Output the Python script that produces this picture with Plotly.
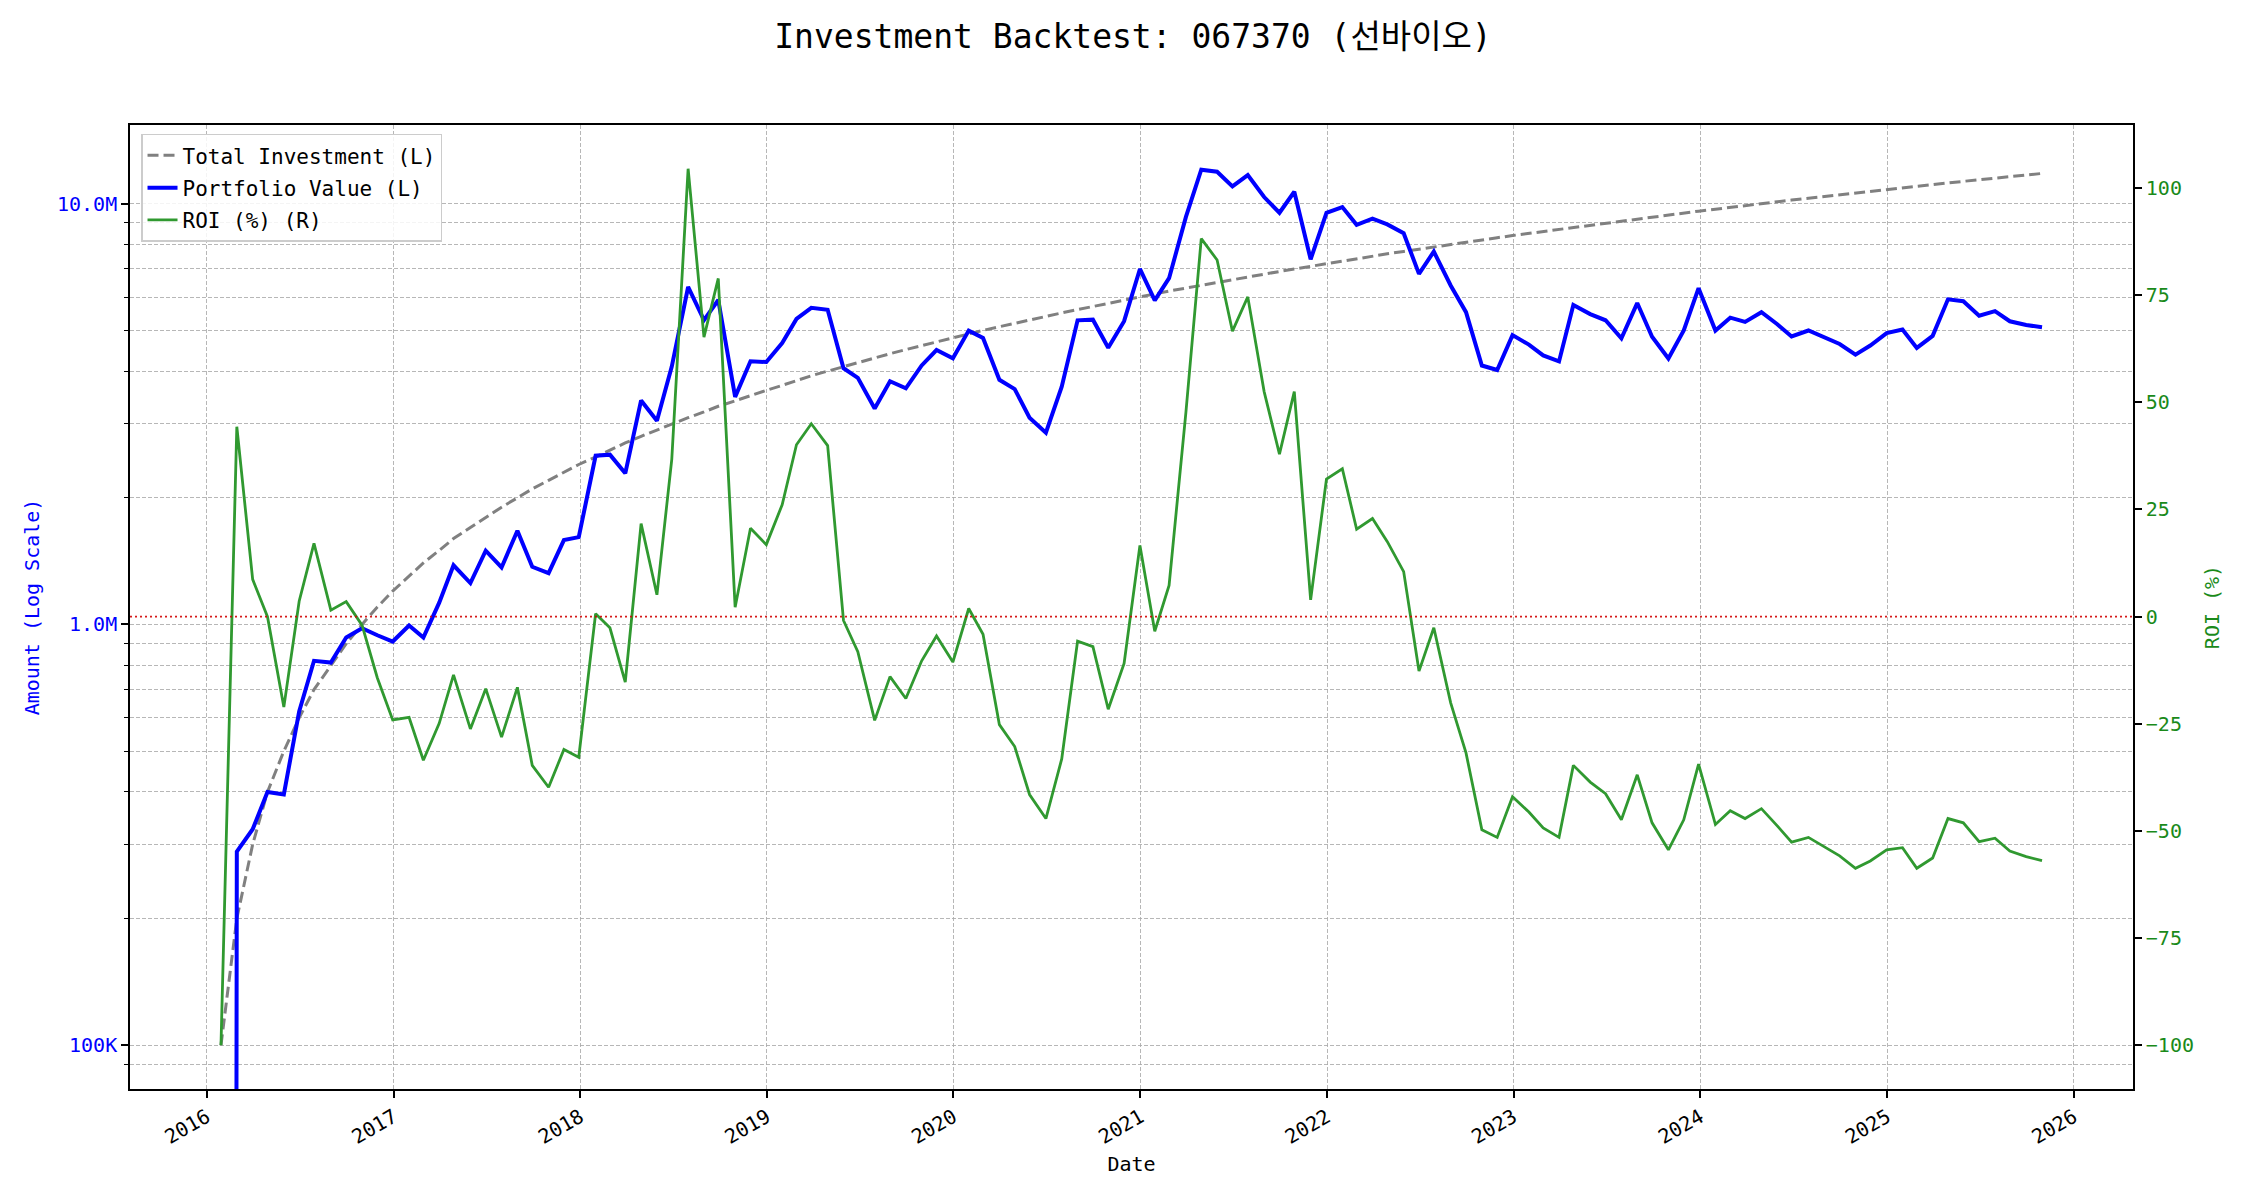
import plotly.graph_objects as go
import pandas as pd

# ---------------- data ----------------
n_months = 118
try:
    dates = pd.date_range("2016-01-01", periods=n_months, freq="BME")
except Exception:
    dates = pd.date_range("2016-01-01", periods=n_months, freq="BM")

# cumulative invested amount, in thousands of KRW
total_investment_k = [
    100, 200, 300, 400, 500, 600, 700, 800, 900, 1000, 1100, 1200,
    1300, 1400, 1500, 1600, 1700, 1800, 1900, 2000, 2100, 2200, 2300, 2400,
    2500, 2600, 2700, 2800, 2900, 3000, 3100, 3200, 3300, 3400, 3500, 3600,
    3700, 3800, 3900, 4000, 4100, 4200, 4300, 4400, 4500, 4600, 4700, 4800,
    4900, 5000, 5100, 5200, 5300, 5400, 5500, 5600, 5700, 5800, 5900, 6000,
    6100, 6200, 6300, 6400, 6500, 6600, 6700, 6800, 6900, 7000, 7100, 7200,
    7300, 7400, 7500, 7600, 7700, 7800, 7900, 8000, 8100, 8200, 8300, 8400,
    8500, 8600, 8700, 8800, 8900, 9000, 9100, 9200, 9300, 9400, 9500, 9600,
    9700, 9800, 9900, 10000, 10100, 10200, 10300, 10400, 10500, 10600, 10700, 10800,
    10900, 11000, 11100, 11200, 11300, 11400, 11500, 11600, 11700, 11800,
]

# ROI (%) per month
roi_pct = [
    -100, 44.3, 8.7, 0.0, -21.1, 3.6, 17.1, 1.5, 3.5, -2.0, -14.3, -24.1,
    -23.5, -33.5, -24.9, -13.6, -26.2, -16.8, -28.1, -16.5, -34.7, -39.8, -31.0, -32.8,
    0.7, -2.6, -15.3, 21.7, 5.1, 36.7, 104.5, 65.2, 78.9, 2.2, 20.6, 16.8,
    26.1, 40.1, 45.0, 39.9, -0.9, -8.2, -24.2, -14.0, -19.1, -10.3, -4.5, -10.6,
    1.9, -4.1, -25.2, -30.3, -41.5, -47.1, -33.2, -5.7, -7.0, -21.6, -10.9, 16.6,
    -3.4, 7.3, 47.7, 88.2, 83.2, 66.6, 74.6, 52.5, 37.9, 52.5, 3.9, 32.1,
    34.5, 20.4, 22.9, 17.5, 10.5, -12.7, -2.6, -20.1, -31.8, -49.7, -51.5, -42.0,
    -45.6, -49.3, -51.5, -34.7, -38.6, -41.3, -47.4, -36.9, -48.1, -54.4, -47.4, -34.4,
    -48.5, -45.3, -47.1, -44.8, -48.8, -52.6, -51.5, -53.6, -55.8, -58.7, -57.0, -54.4,
    -53.9, -58.7, -56.3, -47.1, -48.1, -52.5, -51.7, -54.7, -56.0, -56.9,
]

left_tick_vals = [1e5, 1e6, 1e7]
left_tick_text = ["100K", "1.0M", "10.0M"]
left_minor_vals = [9e4] + [k * 1e5 for k in range(2, 10)] + [k * 1e6 for k in range(2, 10)]
right_tick_vals = [-100, -75, -50, -25, 0, 25, 50, 75, 100]

# ---------------- derived series ----------------
total_investment = [v * 1000 for v in total_investment_k]
portfolio_value = [inv * (1 + r / 100.0) for inv, r in zip(total_investment, roi_pct)]
# matplotlib clips non-positive values on a log axis to a tiny number; do the same
portfolio_plot = [v if v > 0 else 1e-20 for v in portfolio_value]

FONT = "DejaVu Sans Mono, Noto Sans CJK KR, monospace"
GRID = "rgba(170,170,170,0.85)"
GREEN_LINE = "#309930"
GREEN_TXT = "#1a8a1a"
OFF = 8  # page body margin offset compensation

fig = go.Figure()
fig.add_trace(go.Scatter(
    x=dates, y=total_investment, name="Total Investment (L)", mode="lines",
    line=dict(color="gray", width=3, dash="11px,5px"), yaxis="y", legendgroup="a",
))
fig.add_trace(go.Scatter(
    x=dates, y=portfolio_plot, name="Portfolio Value (L)", mode="lines",
    line=dict(color="blue", width=4), yaxis="y", legendgroup="b",
))
fig.add_trace(go.Scatter(
    x=dates, y=roi_pct, name="ROI (%) (R)", mode="lines",
    line=dict(color=GREEN_LINE, width=2.8), yaxis="y2", legendgroup="c",
))

fig.add_shape(type="line", xref="paper", x0=0, x1=1, yref="y2", y0=0, y1=0,
              line=dict(color="rgba(210,0,0,0.9)", width=1.8, dash="2px,3px"),
              layer="above")

fig.update_layout(
    width=2250, height=1200,
    margin=dict(l=130 - OFF, r=117 + OFF, t=125 - OFF, b=111 + OFF),
    paper_bgcolor="white", plot_bgcolor="white",
    font=dict(family=FONT, size=20, color="black"),
    title=dict(text="Investment Backtest: 067370 (선바이오)", x=0.5, xanchor="center",
               y=1 - (36 - OFF) / 1200, yanchor="middle", yref="container",
               font=dict(family=FONT, size=33, color="black")),
    showlegend=True,
    legend=dict(x=0.0055, y=0.991, xanchor="left", yanchor="top",
                bgcolor="rgba(255,255,255,0.85)", bordercolor="#cccccc", borderwidth=1.5,
                font=dict(family=FONT, size=21, color="black"), tracegroupgap=2),
    xaxis=dict(
        type="date", range=["2015-08-04", "2026-04-27"],
        tick0="2016-01-01", dtick="M12", tickformat="%Y", tickangle=-30,
        ticks="outside", ticklen=7, tickwidth=1.6, tickcolor="black",
        showline=True, linecolor="black", linewidth=1.6, mirror=True,
        showgrid=True, gridcolor=GRID, gridwidth=1, griddash="4px,2px",
        zeroline=False, tickfont=dict(size=20, color="black"),
        title=dict(text="Date", standoff=9, font=dict(size=20, color="black")),
    ),
    yaxis=dict(
        type="log", range=[4.896, 7.187],
        tickmode="array", tickvals=left_tick_vals, ticktext=left_tick_text,
        ticks="outside", ticklen=7, tickwidth=1.6, tickcolor="black",
        tickfont=dict(size=20, color="blue"),
        minor=dict(tickmode="array", tickvals=left_minor_vals, ticks="outside", ticklen=4,
                   tickwidth=1.2, tickcolor="black", showgrid=True, gridcolor=GRID,
                   gridwidth=1, griddash="4px,2px"),
        showgrid=True, gridcolor=GRID, gridwidth=1, griddash="4px,2px",
        showline=True, linecolor="black", linewidth=1.6, zeroline=False,
        title=dict(text="Amount (Log Scale)", standoff=12, font=dict(size=20, color="blue")),
    ),
    yaxis2=dict(
        overlaying="y", side="right", range=[-110.2, 114.7],
        tickmode="array", tickvals=right_tick_vals,
        ticks="outside", ticklen=7, tickwidth=1.6, tickcolor="black",
        tickfont=dict(size=20, color=GREEN_TXT),
        showgrid=False, zeroline=False,
        showline=True, linecolor="black", linewidth=1.6,
        title=dict(text="ROI (%)", standoff=12, font=dict(size=20, color=GREEN_TXT)),
    ),
)

fig.write_html("out.html")
